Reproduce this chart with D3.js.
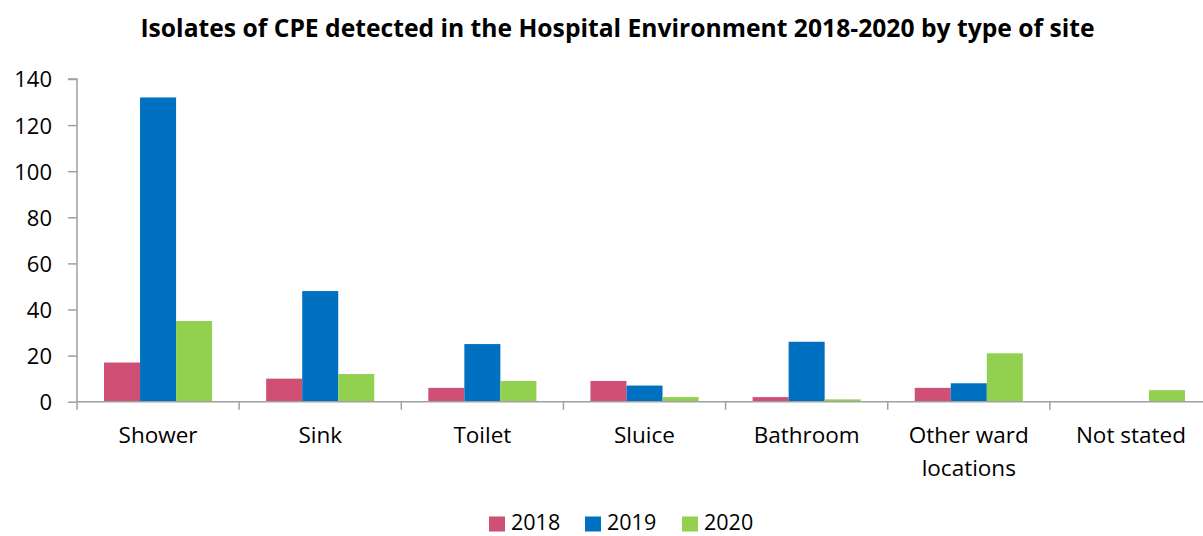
<!DOCTYPE html>
<html><head><meta charset="utf-8">
<script src="https://cdn.jsdelivr.net/npm/d3@7"></script>
<style>body{margin:0;background:#fff}svg{display:block}</style>
</head><body>
<svg id="c" width="1203" height="536"></svg>
<script>
const categories = ["Shower","Sink","Toilet","Sluice","Bathroom","Other ward locations","Not stated"];
const series = ["2018","2019","2020"];
const values2018 = [17,10,6,9,2,6,0];
const values2019 = [132,48,25,7,26,8,0];
const values2020 = [35,12,9,2,1,21,5];
const yTicks = [0,20,40,60,80,100,120,140];
const colors = ["#D05075","#0070C0","#92D050"];
const title = "Isolates of CPE detected in the Hospital Environment 2018-2020 by type of site";

(function(){
const allValues = [values2018, values2019, values2020];
const svg = d3.select("#c");
const font = "'Open Sans', sans-serif";
const pLeft = 77, pRight = 1212, pTop = 79, pBottom = 401.7;

const x = d3.scaleBand().domain(categories).range([pLeft, pRight]).paddingInner(0).paddingOuter(0);
const xs = d3.scaleBand().domain(series).range([0, x.bandwidth()]).paddingInner(0).paddingOuter(0.75);
const y = d3.scaleLinear().domain([0,140]).range([pBottom, pTop]);

function fit(sel, target, base) {
  sel.attr("font-size", base);
  const w = sel.node().getComputedTextLength();
  sel.attr("font-size", base * target / w);
}

// title
const t = svg.append("text").attr("x", 617.5).attr("y", 37).attr("text-anchor","middle")
  .attr("font-family", font).attr("font-weight","bold").attr("fill","#000").text(title);
fit(t, 955, 20);

// bars
const g = svg.append("g");
series.forEach((s, si) => {
  g.selectAll(null).data(categories).join("rect")
    .attr("x", d => x(d) + xs(s))
    .attr("width", xs.bandwidth())
    .attr("y", (d,i) => y(allValues[si][i]))
    .attr("height", (d,i) => y(0) - y(allValues[si][i]))
    .attr("fill", colors[si]);
});

// y axis
const ya = svg.append("g").attr("transform", `translate(${pLeft},0)`)
  .call(d3.axisLeft(y).tickValues(yTicks).tickSize(9).tickPadding(16));
ya.select(".domain").attr("stroke","#A0A0A0").attr("stroke-width",1.5).attr("d", `M-9,${pTop}H0V${pBottom}`);
ya.selectAll(".tick line").attr("stroke","#A0A0A0").attr("stroke-width",1.5);
ya.selectAll(".tick text").attr("font-family", font).attr("font-size", 22).attr("fill","#000").attr("dy","0.36em");

// x axis
const xa = svg.append("g").attr("transform", `translate(0,${pBottom})`);
xa.append("line").attr("x1", pLeft).attr("x2", pRight).attr("y1",0).attr("y2",0).attr("stroke","#A0A0A0").attr("stroke-width",1.5);
xa.selectAll("line.tk").data(categories).join("line").attr("class","tk")
  .attr("x1", d => x(d)).attr("x2", d => x(d)).attr("y1",0).attr("y2",8)
  .attr("stroke","#A0A0A0").attr("stroke-width",1.5);
const lbl = xa.selectAll("text.cl").data(categories).join("text").attr("class","cl")
  .attr("text-anchor","middle").attr("font-family", font).attr("font-size", 22.5).attr("fill","#000");
lbl.each(function(d){
  const cx = x(d) + x.bandwidth()/2;
  const words = d === "Other ward locations" ? ["Other ward","locations"] : [d];
  d3.select(this).selectAll("tspan").data(words).join("tspan")
    .attr("x", cx).attr("y", (w,i) => 41.6 + i*33).text(w => w);
});

// legend
const lg = svg.append("g").attr("transform","translate(0,530)");
const lx = [489, 585, 682];
series.forEach((s,i) => {
  lg.append("rect").attr("x", lx[i]).attr("y", -13.5).attr("width", 16).attr("height", 15).attr("fill", colors[i]);
  lg.append("text").attr("x", lx[i] + 22).attr("y", 0).attr("font-family", font).attr("font-size", 21.5).attr("fill","#000").text(s);
});
})();
</script>
</body></html>
